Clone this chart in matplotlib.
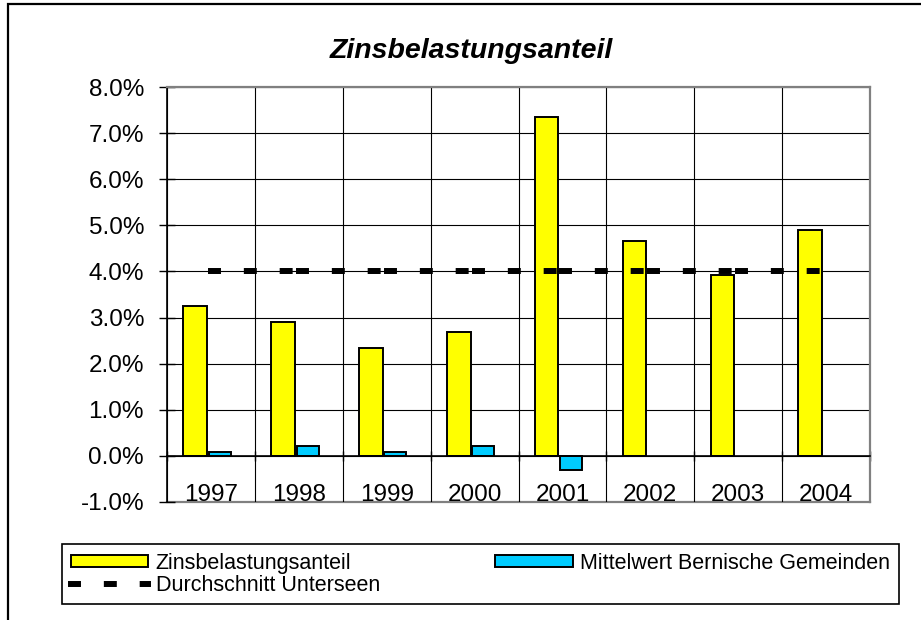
import numpy as np
import matplotlib
matplotlib.use('Agg')
import matplotlib.pyplot as plt
from matplotlib.lines import Line2D
from matplotlib.patches import Rectangle

plt.rcParams['font.family'] = ['Liberation Sans', 'DejaVu Sans']

# data (values in percent)
years = ['1997', '1998', '1999', '2000', '2001', '2002', '2003', '2004']
zins = [3.25, 2.90, 2.34, 2.69, 7.36, 4.67, 3.93, 4.89]
mittel = [0.09, 0.22, 0.09, 0.22, -0.30, np.nan, np.nan, np.nan]
durchschnitt = [4.0, 4.0, 4.0, 4.0, 4.0, 4.0, 4.0, 4.0]

yellow = '#FFFF00'
blue = '#00CCFF'

W, H = 921, 620
fig = plt.figure(figsize=(W / 100, H / 100), dpi=100)
ax = fig.add_axes([167 / W, 1 - 502 / H, (870 - 167) / W, (502 - 87) / H])

x = np.arange(len(years))

#bars
ax.bar(x - 0.18, zins, width=0.27, color=yellow, edgecolor='black', linewidth=1.4, zorder=2)
ax.bar(x + 0.10, mittel, width=0.25, color=blue, edgecolor='black', linewidth=1.4, zorder=2)

#dashed average line, dash pattern restarts every segment like in excel
line_kw = dict(color='black', linewidth=4.3, dash_capstyle='projecting',
               linestyle=(0, (1.17, 4.83)))
for i in range(len(x) - 1):
    ax.plot(x[i:i + 2], durchschnitt[i:i + 2], zorder=4, **line_kw)

#spine first, moving it resets the tick settings
ax.spines['bottom'].set_position(('data', 0))
ax.spines['bottom'].set_linewidth(1.2)
ax.spines['left'].set_linewidth(1.2)
for s in ['top', 'right']:
    ax.spines[s].set_color('#808080')
    ax.spines[s].set_linewidth(1.6)
#gray bottom border of the plot area, below the year labels
ax.plot([0, 1], [0, 0], transform=ax.transAxes, color='#808080', linewidth=1.6,
        clip_on=False, zorder=0.4)

#axes
ax.set_xlim(-0.5, len(years) - 0.5)
ax.set_ylim(-1, 8)
ax.set_yticks(np.arange(-1, 9, 1))
ax.set_yticklabels(['%.1f%%' % v for v in np.arange(-1, 9, 1)])
ax.set_xticks(np.arange(len(years) + 1) - 0.5)
ax.set_xticklabels([])
ax.set_xticks(x, minor=True)
ax.set_xticklabels(years, minor=True)
ax.tick_params(axis='x', which='major', direction='inout', length=7, width=1)
ax.tick_params(axis='x', which='minor', length=0, pad=20.5, labelsize=17.5)
ax.tick_params(axis='y', direction='inout', length=11, width=1, pad=11, labelsize=17.5)

ax.set_axisbelow(True)
ax.grid(axis='x', which='major', color='black', linewidth=0.8)
ax.grid(axis='y', which='major', color='black', linewidth=0.8)
ax.get_ygridlines()[0].set_visible(False)

#title
fig.text(471 / W, 1 - 58 / H, 'Zinsbelastungsanteil', ha='center', va='baseline',
         fontsize=20.5, fontweight='bold', fontstyle='italic')

#legend
handles = [Rectangle((0, 0), 1, 1, facecolor=yellow, edgecolor='black', linewidth=1.4),
           Line2D([0], [0], **line_kw),
           Rectangle((0, 0), 1, 1, facecolor=blue, edgecolor='black', linewidth=1.4)]
labels = ['Zinsbelastungsanteil', 'Durchschnitt Unterseen', 'Mittelwert Bernische Gemeinden']
leg = fig.legend(handles, labels, ncol=2, mode='expand', loc='upper left',
                 bbox_to_anchor=(62 / W, 1 - 601 / H, (899 - 62) / W, (601 - 544) / H),
                 fontsize=15.5, frameon=True, fancybox=False, framealpha=1,
                 edgecolor='black', handlelength=3.6, handleheight=0.5,
                 handletextpad=0.35, labelspacing=0.05, borderpad=0.4,
                 borderaxespad=0)
leg.get_frame().set_linewidth(1.2)

#outer chart border
fig.add_artist(Rectangle((8 / W, -0.1), 1.2, 1.1 - 4 / H, transform=fig.transFigure,
                         fill=False, edgecolor='black', linewidth=1.6))

fig.savefig('out.png', dpi=100)
